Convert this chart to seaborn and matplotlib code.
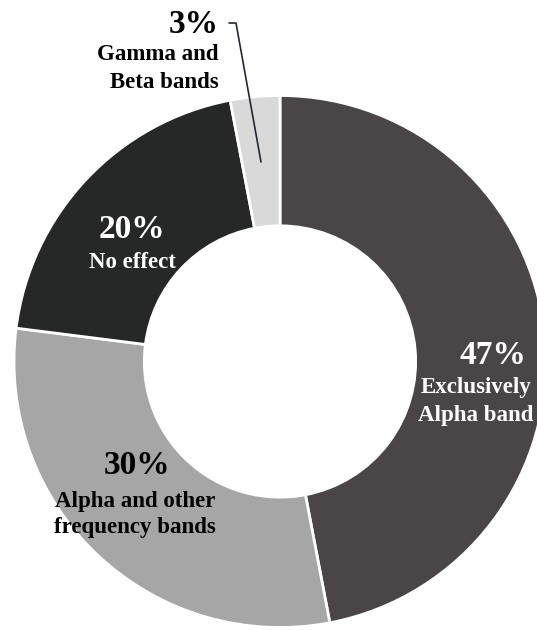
import matplotlib
matplotlib.use("Agg")
import matplotlib.pyplot as plt
import seaborn as sns

sns.set_theme(style="white")
plt.rcParams['font.family'] = ['Liberation Serif', 'DejaVu Serif']

categories = ["Exclusively\nAlpha band", "Alpha and other\nfrequency bands", "No effect", "Gamma and\nBeta bands"]
values = [47, 30, 20, 3]
colors = ["#4a4647", "#a6a6a6", "#262828", "#d9d9d9"]

W, H = 537, 630
fig = plt.figure(figsize=(W / 100, H / 100), dpi=100)
ax = fig.add_axes([0, 0, 1, 1])

cx, cy, R = 280.0, 361.5, 266.0  # pixel layout of the donut
DY = 3  # vertical nudge for text

def P(x, y):
    return ((x - cx) / R, (cy - (y + DY)) / R)

ax.pie(values, colors=colors, startangle=90, counterclock=False, radius=1.0,
       wedgeprops=dict(width=0.49, edgecolor="white", linewidth=2))

ax.set_xlim(-cx / R, (W - cx) / R)
ax.set_ylim(-(H - cy) / R, cy / R)
ax.set_aspect("auto")
ax.axis("off")

bold = dict(fontweight="bold")
# 47%
ax.text(*P(493, 352), f"{values[0]}%", color="white", fontsize=24, ha="center", va="center", **bold)
for i, line in enumerate(categories[0].split("\n")):
    ax.text(*P(476, 385 + i * 27), line, color="white", fontsize=16.5, ha="center", va="center", **bold)
# 30%
ax.text(*P(137, 463), f"{values[1]}%", color="black", fontsize=24, ha="center", va="center", **bold)
for i, line in enumerate(categories[1].split("\n")):
    ax.text(*P(135, 498 + i * 27), line, color="black", fontsize=16.5, ha="center", va="center", **bold)
# 20%
ax.text(*P(132, 226), f"{values[2]}%", color="white", fontsize=24, ha="center", va="center", **bold)
ax.text(*P(132, 259), categories[2], color="white", fontsize=16.5, ha="center", va="center", **bold)
# 3%
ax.text(*P(219, 22), f"{values[3]}%", color="black", fontsize=24, ha="right", va="center", **bold)
for i, line in enumerate(categories[3].split("\n")):
    ax.text(*P(219, 52 + i * 27), line, color="black", fontsize=16.5, ha="right", va="center", **bold)

lx, ly = zip(P(229, 20), P(236, 20), P(261, 159))
ax.plot(lx, ly, color="#1f2a35", lw=1.2)

fig.savefig("out.png", dpi=100)
